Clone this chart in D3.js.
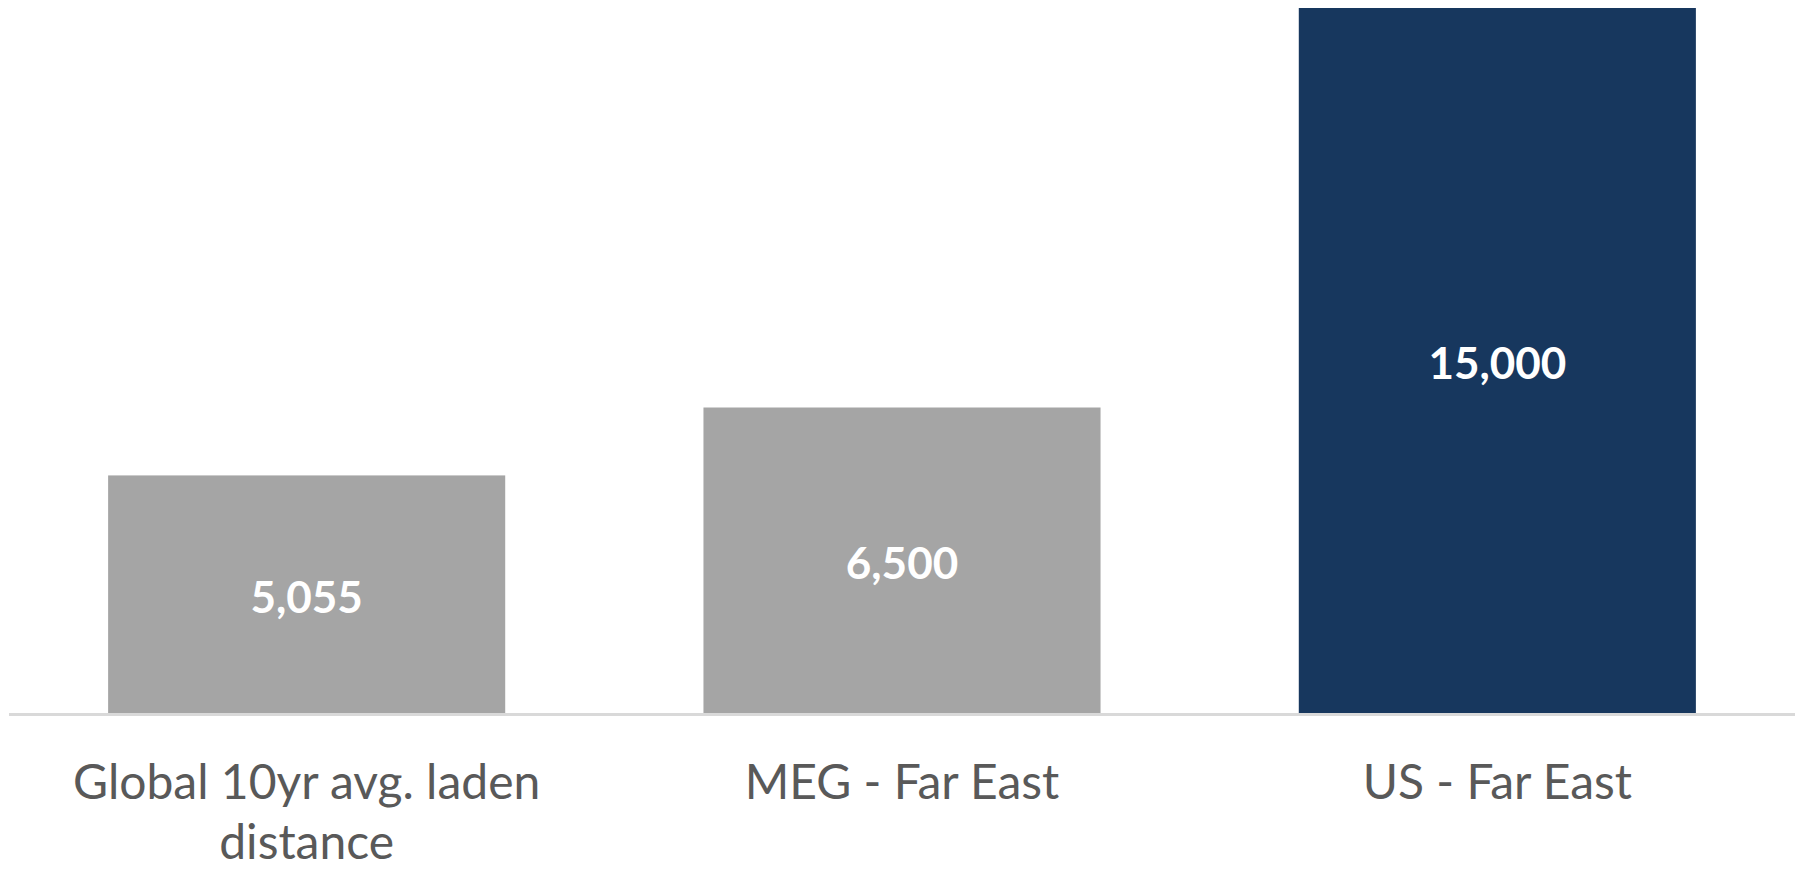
<!DOCTYPE html>
<html>
<head>
<meta charset="utf-8">
<script src="https://cdn.jsdelivr.net/npm/d3@7"></script>
<style>
  html, body { margin: 0; padding: 0; background: #ffffff; }
  svg { display: block; }
</style>
</head>
<body>
<svg id="chart" width="1800" height="870"></svg>
<script>
// Laden voyage distances (nautical miles) by route
const categories = ["Global 10yr avg. laden distance", "MEG - Far East", "US - Far East"];
const distances = [5055, 6500, 15000];
const barColors = ["#a5a5a5", "#a5a5a5", "#17375e"];

const W = 1800, H = 870;
const margin = { left: 9, right: 5, top: 8, baseline: 713 };

const svg = d3.select("#chart");

const x = d3.scaleBand()
  .domain(categories)
  .range([margin.left, W - margin.right])
  .paddingInner(0.333)
  .paddingOuter(0.1665);

const y = d3.scaleLinear()
  .domain([0, 15000])
  .range([margin.baseline, margin.top]);

const data = categories.map((c, i) => ({ cat: c, value: distances[i], color: barColors[i] }));

// Bars
svg.append("g").selectAll("rect")
  .data(data)
  .join("rect")
  .attr("x", d => x(d.cat))
  .attr("width", x.bandwidth())
  .attr("y", d => y(d.value))
  .attr("height", d => y(0) - y(d.value))
  .attr("fill", d => d.color);

// Value labels centred inside bars
const fmt = d3.format(",");
svg.append("g").selectAll("text")
  .data(data)
  .join("text")
  .attr("x", d => x(d.cat) + x.bandwidth() / 2)
  .attr("y", d => (y(d.value) + y(0)) / 2)
  .attr("dy", "0.42em")
  .attr("text-anchor", "middle")
  .attr("fill", "#ffffff")
  .style("font-family", "Lato, 'Open Sans', sans-serif")
  .style("font-weight", "700")
  .style("font-size", "44px")
  .text(d => fmt(d.value));

// Category axis along the baseline
const xAxis = d3.axisBottom(x).tickSize(0).tickPadding(0);
const gx = svg.append("g")
  .attr("transform", `translate(0,${margin.baseline})`)
  .call(xAxis);

gx.select(".domain")
  .attr("d", `M${margin.left},1.5H${W - margin.right}`)
  .attr("stroke", "#d9d9d9")
  .attr("stroke-width", 3);

gx.selectAll(".tick text")
  .attr("fill", "#595959")
  .style("font-family", "Lato, 'Open Sans', sans-serif")
  .style("font-size", "48px")
  .attr("y", 86)
  .attr("dy", 0)
  .call(wrap, 560, 60);

// Break tick labels into lines no wider than `width`
function wrap(sel, width, lineHeight) {
  sel.each(function () {
    const text = d3.select(this);
    const words = text.text().split(/\s+/);
    const yPos = text.attr("y");
    text.text(null);
    let line = [];
    let lineNo = 0;
    let tspan = text.append("tspan").attr("x", 0).attr("y", yPos);
    for (const w of words) {
      line.push(w);
      tspan.text(line.join(" "));
      if (tspan.node().getComputedTextLength() > width && line.length > 1) {
        line.pop();
        tspan.text(line.join(" "));
        line = [w];
        lineNo++;
        tspan = text.append("tspan").attr("x", 0)
          .attr("y", +yPos + lineNo * lineHeight).text(w);
      }
    }
  });
}
</script>
</body>
</html>
